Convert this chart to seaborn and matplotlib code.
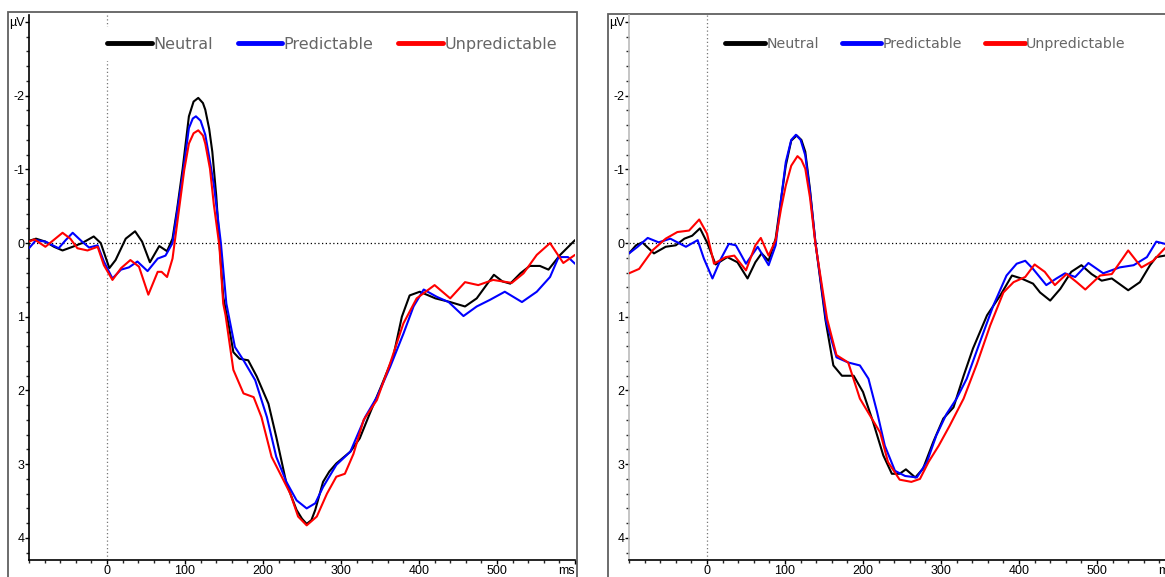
import numpy as np
import pandas as pd
import matplotlib
matplotlib.use("Agg")
import matplotlib.pyplot as plt
import seaborn as sns
from matplotlib.lines import Line2D
from matplotlib.patches import Rectangle
from matplotlib.ticker import MultipleLocator

# ---------------- data (time in ms, amplitude in µV; negative plotted up) ----------------
conditions = ["Neutral", "Predictable", "Unpredictable"]
colors = ["#000000", "#0000ff", "#ff0000"]

x_ticks = [0, 100, 200, 300, 400, 500, 600]
x_tick_labels = ["0", "100", "200", "300", "400", "500", "ms"]
y_ticks = [-3, -2, -1, 0, 1, 2, 3, 4]
y_tick_labels = ["µV", "-2", "-1", "0", "1", "2", "3", "4"]

# left panel
left_neutral_t = [-100, -91, -79, -68, -57, -44, -32, -17, -8, 3, 11, 24, 36, 45, 55, 67, 77, 84, 90, 97,
                  105, 111, 117, 123, 126, 131, 135, 140, 144, 149, 156, 162, 170, 181, 192, 207, 217, 230,
                  243, 250, 256, 262, 267, 277, 285, 294, 312, 324, 337, 352, 367, 378, 388, 401, 421, 440,
                  459, 474, 485, 496, 507, 517, 530, 542, 555, 566, 581, 600]
left_neutral_v = [-0.03, -0.06, -0.02, 0.05, 0.10, 0.05, 0.00, -0.09, 0.00, 0.34, 0.23, -0.06, -0.16, -0.02,
                  0.26, 0.04, 0.11, -0.06, -0.47, -1.01, -1.72, -1.92, -1.97, -1.90, -1.81, -1.55, -1.24,
                  -0.65, -0.02, 0.73, 1.11, 1.48, 1.57, 1.59, 1.81, 2.18, 2.63, 3.26, 3.62, 3.74, 3.81, 3.76,
                  3.62, 3.24, 3.10, 2.99, 2.83, 2.65, 2.31, 1.93, 1.54, 1.00, 0.71, 0.66, 0.75, 0.80, 0.86,
                  0.75, 0.59, 0.43, 0.52, 0.55, 0.41, 0.31, 0.31, 0.36, 0.16, -0.04]

left_pred_t = [-100, -91, -79, -62, -53, -44, -32, -23, -12, -4, 7, 18, 28, 39, 52, 65, 75, 84, 90, 97, 105,
               110, 114, 120, 126, 131, 137, 146, 153, 164, 175, 190, 205, 217, 230, 243, 256, 267, 277, 294,
               312, 331, 346, 363, 380, 393, 406, 423, 438, 457, 474, 491, 510, 532, 551, 568, 579, 591, 600]
left_pred_v = [0.07, -0.04, -0.02, 0.07, -0.04, -0.14, -0.02, 0.06, 0.03, 0.25, 0.48, 0.36, 0.33, 0.25, 0.38,
               0.21, 0.17, 0.00, -0.43, -0.92, -1.56, -1.69, -1.72, -1.66, -1.47, -1.17, -0.79, 0.00, 0.82,
               1.41, 1.59, 1.86, 2.36, 2.90, 3.24, 3.49, 3.60, 3.53, 3.31, 3.01, 2.83, 2.36, 2.09, 1.68, 1.23,
               0.86, 0.63, 0.73, 0.80, 0.99, 0.86, 0.77, 0.66, 0.80, 0.66, 0.46, 0.19, 0.19, 0.28]

left_unpred_t = [-100, -93, -79, -57, -47, -38, -25, -12, -4, 7, 18, 30, 41, 53, 65, 70, 77, 84, 92, 99, 105,
                 111, 117, 123, 126, 132, 137, 144, 149, 152, 162, 175, 188, 198, 211, 224, 235, 245, 256, 269,
                 282, 294, 305, 316, 329, 346, 363, 380, 397, 420, 440, 459, 476, 495, 519, 534, 551, 568, 585,
                 600]
left_unpred_v = [-0.02, -0.05, 0.05, -0.14, -0.06, 0.07, 0.10, 0.05, 0.30, 0.50, 0.34, 0.23, 0.32, 0.70, 0.39,
                 0.39, 0.46, 0.21, -0.43, -0.99, -1.35, -1.49, -1.53, -1.46, -1.35, -1.01, -0.52, 0.03, 0.82,
                 0.98, 1.72, 2.04, 2.09, 2.36, 2.90, 3.17, 3.40, 3.71, 3.83, 3.71, 3.40, 3.17, 3.13, 2.86, 2.40,
                 2.13, 1.63, 1.09, 0.75, 0.57, 0.75, 0.53, 0.57, 0.50, 0.54, 0.41, 0.16, 0.00, 0.27, 0.16]

# right panel
right_neutral_t = [-100, -91, -83, -68, -53, -40, -29, -19, -9, 0, 11, 26, 39, 52, 62, 70, 79, 88, 95, 101,
                   108, 115, 121, 126, 132, 139, 152, 162, 173, 188, 200, 213, 226, 237, 247, 255, 267, 277,
                   290, 303, 316, 329, 341, 359, 376, 391, 403, 418, 427, 440, 453, 467, 480, 493, 506, 519,
                   540, 555, 568, 576, 587, 600]
right_neutral_v = [0.14, 0.03, -0.01, 0.14, 0.05, 0.03, -0.06, -0.10, -0.20, -0.01, 0.29, 0.19, 0.26, 0.48,
                   0.26, 0.14, 0.24, -0.06, -0.60, -1.05, -1.39, -1.46, -1.40, -1.24, -0.73, -0.01, 1.05, 1.66,
                   1.80, 1.80, 2.02, 2.43, 2.88, 3.13, 3.13, 3.07, 3.18, 3.06, 2.70, 2.38, 2.23, 1.80, 1.43,
                   0.98, 0.71, 0.44, 0.48, 0.55, 0.67, 0.78, 0.62, 0.39, 0.30, 0.42, 0.51, 0.48, 0.64, 0.53,
                   0.30, 0.19, 0.17, 0.15]

right_pred_t = [-100, -89, -76, -62, -47, -27, -12, -4, 7, 18, 28, 37, 50, 65, 79, 88, 95, 101, 108, 114, 120,
                126, 132, 139, 153, 166, 181, 196, 207, 218, 228, 241, 254, 269, 282, 294, 307, 320, 333, 350,
                367, 384, 397, 408, 418, 435, 448, 459, 472, 489, 508, 529, 547, 564, 576, 587, 600]
right_pred_v = [0.14, 0.05, -0.07, -0.01, -0.06, 0.05, -0.04, 0.21, 0.48, 0.21, 0.01, 0.03, 0.28, 0.05, 0.30,
                0.03, -0.60, -1.10, -1.40, -1.47, -1.40, -1.19, -0.70, -0.01, 1.07, 1.55, 1.62, 1.66, 1.84,
                2.29, 2.75, 3.09, 3.16, 3.18, 2.97, 2.61, 2.32, 2.11, 1.84, 1.34, 0.85, 0.44, 0.28, 0.24, 0.35,
                0.57, 0.48, 0.41, 0.46, 0.27, 0.41, 0.33, 0.30, 0.19, -0.02, 0.01, 0.05]

right_unpred_t = [-100, -87, -70, -53, -38, -23, -10, 0, 9, 24, 35, 50, 62, 69, 79, 88, 95, 101, 108, 116, 121,
                  126, 132, 139, 154, 166, 181, 196, 209, 222, 232, 247, 262, 273, 284, 297, 311, 329, 346, 363,
                  380, 393, 408, 420, 433, 446, 461, 474, 485, 504, 519, 540, 557, 572, 587, 600]
right_unpred_v = [0.41, 0.35, 0.10, -0.06, -0.15, -0.17, -0.32, -0.13, 0.28, 0.19, 0.17, 0.37, 0.03, -0.07,
                  0.17, -0.04, -0.47, -0.78, -1.05, -1.18, -1.13, -1.01, -0.62, 0.01, 1.03, 1.52, 1.62, 2.11,
                  2.34, 2.57, 2.97, 3.21, 3.24, 3.20, 2.97, 2.75, 2.48, 2.11, 1.64, 1.12, 0.67, 0.53, 0.46, 0.29,
                  0.39, 0.57, 0.42, 0.53, 0.63, 0.44, 0.42, 0.10, 0.33, 0.24, 0.07, 0.00]


def long_frame(series):
    parts = []
    for cond, (t, v) in zip(conditions, series):
        parts.append(pd.DataFrame({"t": t, "v": v, "cond": cond}))
    return pd.concat(parts, ignore_index=True)


left_df = long_frame([(left_neutral_t, left_neutral_v), (left_pred_t, left_pred_v),
                      (left_unpred_t, left_unpred_v)])
right_df = long_frame([(right_neutral_t, right_neutral_v), (right_pred_t, right_pred_v),
                       (right_unpred_t, right_unpred_v)])

# ---------------- figure ----------------
sns.set_theme(style="white")
plt.rcParams["font.family"] = ["Liberation Sans", "DejaVu Sans"]

W, H = 1165, 577
fig = plt.figure(figsize=(W / 100, H / 100), dpi=100)
fig.patch.set_facecolor("white")

Y_TOP, Y_BOT = -3.1, 4.3
PX_PER_UV = 73.7
ax_h = (Y_BOT - Y_TOP) * PX_PER_UV

ax_l = fig.add_axes([29 / W, 1 - 560 / H, 546 / W, ax_h / H])
ax_r = fig.add_axes([629 / W, 1 - 560 / H, 546 / W, ax_h / H])

# outer panel frames
fig.add_artist(Rectangle((8 / W, -0.1), (577 - 8) / W, 1 - 12 / H + 0.1, transform=fig.transFigure,
                         fill=False, ec="#606060", lw=1.3, clip_on=False, zorder=0))
fig.add_artist(Rectangle((608 / W, -0.1), 1.0, 1 - 14 / H + 0.1, transform=fig.transFigure,
                         fill=False, ec="#606060", lw=1.3, clip_on=False, zorder=0))

palette = dict(zip(conditions, colors))


def style_panel(ax, df, spine_color, legend_x, legend_y, fs, handlelen, colspace):
    ax.set_facecolor("none")
    ax.axhline(0, color="black", lw=0.9, ls=(0, (1, 2)), zorder=1)
    ax.axvline(0, color="#777777", lw=0.9, ls=(0, (1, 2)), zorder=1)
    sns.lineplot(data=df, x="t", y="v", hue="cond", hue_order=conditions, palette=palette,
                 estimator=None, sort=False, lw=1.5, legend=False, ax=ax, zorder=3)
    ax.set_xlim(-100, 600)
    ax.set_ylim(Y_BOT, Y_TOP)
    ax.set_xlabel("")
    ax.set_ylabel("")
    ax.set_xticks(x_ticks)
    ax.set_xticklabels(x_tick_labels)
    ax.set_yticks(y_ticks)
    ax.set_yticklabels(y_tick_labels)
    ax.get_xticklabels()[-1].set_horizontalalignment("right")
    ax.xaxis.set_minor_locator(MultipleLocator(20))
    ax.yaxis.set_minor_locator(MultipleLocator(0.2))
    ax.tick_params(which="major", direction="out", length=3, width=1, labelsize=9, pad=0.3,
                   colors="black", bottom=True, left=True)
    ax.tick_params(which="minor", direction="out", length=2, width=1, bottom=True, left=True)
    for side in ["top", "right"]:
        ax.spines[side].set_visible(False)
    ax.spines["bottom"].set_color("black")
    ax.spines["bottom"].set_linewidth(1.2)
    ax.spines["left"].set_color(spine_color)
    ax.spines["left"].set_linewidth(1.2)

    handles = [Line2D([], [], color=c, lw=3.5, solid_capstyle="round") for c in colors]
    leg = ax.legend(handles, conditions, ncol=3, loc="center left", bbox_to_anchor=(legend_x, legend_y),
                    frameon=True, facecolor="white", edgecolor="none", framealpha=1, fancybox=False,
                    handlelength=handlelen, handletextpad=0.1, columnspacing=colspace, borderpad=0.6,
                    borderaxespad=0, prop={"family": "DejaVu Sans", "size": fs}, labelcolor="#666666")
    leg.set_zorder(5)


style_panel(ax_l, left_df, "black", 0.125, 0.946, 11.5, 2.8, 1.55)
style_panel(ax_r, right_df, "#bbbbbb", 0.161, 0.946, 10.2, 2.8, 1.6)

fig.savefig("out.png", dpi=100, facecolor="white")
